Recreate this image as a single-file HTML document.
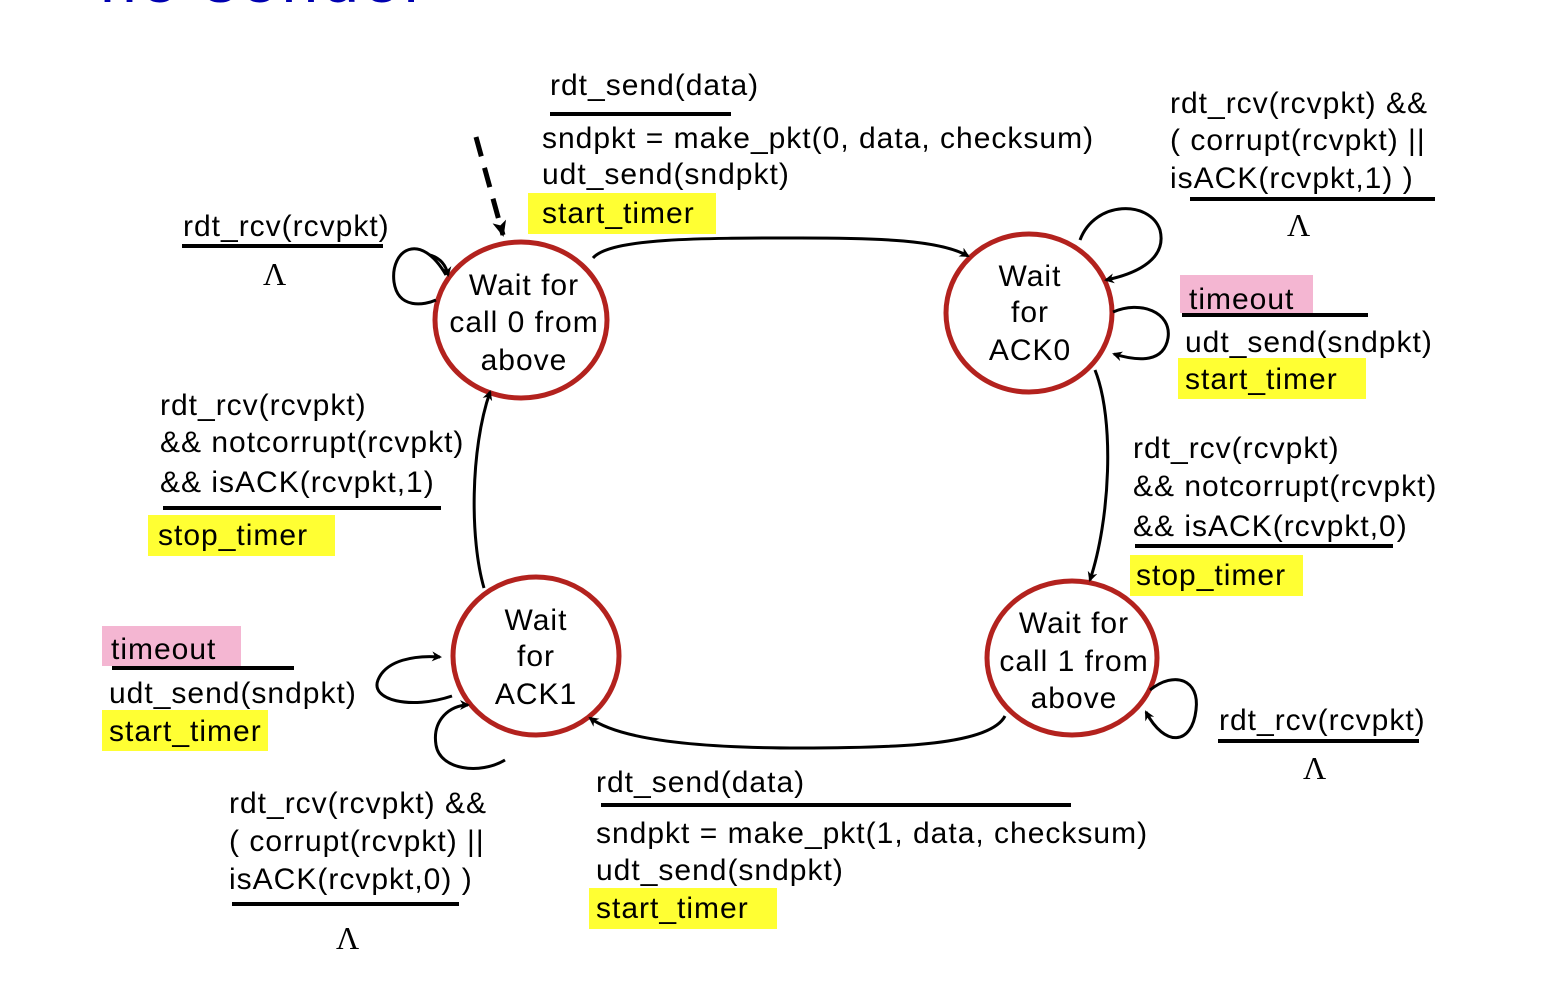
<!DOCTYPE html>
<html><head><meta charset="utf-8"><style>
html,body{margin:0;padding:0;background:#fff;}
svg{display:block;}
text{font-family:"Liberation Sans",sans-serif;font-size:30px;letter-spacing:1px;fill:#000;}
text.l{font-family:"Liberation Serif",serif;font-size:32px;letter-spacing:0;}
</style></head><body>
<svg width="1558" height="987" viewBox="0 0 1558 987" xmlns="http://www.w3.org/2000/svg">
<defs>
<marker id="a" markerWidth="10" markerHeight="10" refX="8" refY="5" orient="auto" markerUnits="userSpaceOnUse" viewBox="0 0 10 10">
<path d="M0,0 L10,5 L0,10 L3,5 z" fill="#000"/></marker>
<marker id="b" markerWidth="16" markerHeight="16" refX="14" refY="8" orient="auto" markerUnits="userSpaceOnUse" viewBox="0 0 16 16">
<path d="M0,1 L16,8 L0,15 L4,8 z" fill="#000"/></marker>
</defs>
<text x="100" y="2" style="font-size:66px;fill:#0000b0;letter-spacing:4px">ne sender</text>

<!-- highlights -->
<rect x="528" y="193" width="188" height="41" fill="#ffff33"/>
<rect x="1178" y="358" width="188" height="41" fill="#ffff33"/>
<rect x="148" y="515" width="187" height="41" fill="#ffff33"/>
<rect x="1130" y="555" width="173" height="41" fill="#ffff33"/>
<rect x="102" y="710" width="166" height="41" fill="#ffff33"/>
<rect x="589" y="888" width="188" height="41" fill="#ffff33"/>
<rect x="1180" y="275" width="133" height="38" fill="#f4b6d2"/>
<rect x="102" y="626" width="139" height="40" fill="#f4b6d2"/>

<!-- states -->
<g fill="none" stroke="#b3221e" stroke-width="5">
<ellipse cx="521" cy="320" rx="86" ry="78"/>
<ellipse cx="1029" cy="313" rx="83" ry="79"/>
<ellipse cx="536" cy="656" rx="83" ry="79"/>
<ellipse cx="1072" cy="658" rx="85" ry="77"/>
</g>
<g text-anchor="middle">
<text x="524" y="295">Wait for</text><text x="524" y="332">call 0 from</text><text x="524" y="370">above</text>
<text x="1030" y="286">Wait</text><text x="1030" y="322">for</text><text x="1030" y="360">ACK0</text>
<text x="536" y="630">Wait</text><text x="536" y="666">for</text><text x="536" y="704">ACK1</text>
<text x="1074" y="633">Wait for</text><text x="1074" y="671">call 1 from</text><text x="1074" y="708">above</text>
</g>

<!-- transitions -->
<g fill="none" stroke="#000" stroke-width="3">
<path d="M476,137 L503,235" stroke-dasharray="20,12" stroke-width="5" marker-end="url(#b)"/>
<path d="M593,258 C610,238 700,238 800,238 C880,238 940,240 968,256" marker-end="url(#a)"/>
<path d="M1095,370 C1115,420 1110,520 1090,580" marker-end="url(#a)"/>
<path d="M1005,716 C990,745 900,748 800,748 C700,748 620,740 590,718" marker-end="url(#a)"/>
<path d="M484,588 C470,540 470,450 490,392" marker-end="url(#a)"/>
<path d="M446,275 C420,230 390,250 394,282 C398,310 425,305 436,300" />
<path d="M430,255 C440,258 446,265 448,275" marker-end="url(#a)"/>
<path d="M1080,240 C1095,200 1150,200 1160,230 C1168,262 1130,275 1106,280" marker-end="url(#a)"/>
<path d="M1113,312 C1140,300 1172,312 1168,338 C1164,362 1140,362 1114,354" marker-end="url(#a)"/>
<path d="M1150,690 C1175,670 1200,680 1196,710 C1192,745 1165,748 1146,712" marker-end="url(#a)"/>
<path d="M452,696 C410,710 370,700 378,680 C386,660 415,655 440,657" marker-end="url(#a)"/>
<path d="M505,760 C480,775 440,770 436,745 C432,720 450,705 468,705" marker-end="url(#a)"/>
</g>

<!-- separator lines -->
<g stroke="#000" stroke-width="4">
<line x1="550" y1="114" x2="731" y2="114"/>
<line x1="1190" y1="199" x2="1435" y2="199"/>
<line x1="182" y1="246" x2="383" y2="246"/>
<line x1="1182" y1="315" x2="1368" y2="315"/>
<line x1="163" y1="508" x2="441" y2="508"/>
<line x1="1135" y1="546" x2="1393" y2="546"/>
<line x1="112" y1="668" x2="294" y2="668"/>
<line x1="1218" y1="741" x2="1419" y2="741"/>
<line x1="601" y1="805" x2="1071" y2="805"/>
<line x1="232" y1="904" x2="459" y2="904"/>
</g>

<!-- labels -->
<text x="550" y="95">rdt_send(data)</text>
<text x="542" y="148">sndpkt = make_pkt(0, data, checksum)</text>
<text x="542" y="184">udt_send(sndpkt)</text>
<text x="542" y="223">start_timer</text>

<text x="1170" y="113">rdt_rcv(rcvpkt) &amp;&amp;</text>
<text x="1170" y="150">( corrupt(rcvpkt) ||</text>
<text x="1170" y="188">isACK(rcvpkt,1) )</text>
<text class="l" x="1287" y="236">Λ</text>

<text x="183" y="236">rdt_rcv(rcvpkt)</text>
<text class="l" x="263" y="285">Λ</text>

<text x="1189" y="309">timeout</text>
<text x="1185" y="352">udt_send(sndpkt)</text>
<text x="1185" y="389">start_timer</text>

<text x="160" y="415">rdt_rcv(rcvpkt)</text>
<text x="160" y="452">&amp;&amp; notcorrupt(rcvpkt)</text>
<text x="160" y="492">&amp;&amp; isACK(rcvpkt,1)</text>
<text x="158" y="545">stop_timer</text>

<text x="1133" y="458">rdt_rcv(rcvpkt)</text>
<text x="1133" y="496">&amp;&amp; notcorrupt(rcvpkt)</text>
<text x="1133" y="536">&amp;&amp; isACK(rcvpkt,0)</text>
<text x="1136" y="585">stop_timer</text>

<text x="111" y="659">timeout</text>
<text x="109" y="703">udt_send(sndpkt)</text>
<text x="109" y="741">start_timer</text>

<text x="1219" y="730">rdt_rcv(rcvpkt)</text>
<text class="l" x="1303" y="779">Λ</text>

<text x="596" y="792">rdt_send(data)</text>
<text x="596" y="843">sndpkt = make_pkt(1, data, checksum)</text>
<text x="596" y="880">udt_send(sndpkt)</text>
<text x="596" y="918">start_timer</text>

<text x="229" y="813">rdt_rcv(rcvpkt) &amp;&amp;</text>
<text x="229" y="851">( corrupt(rcvpkt) ||</text>
<text x="229" y="889">isACK(rcvpkt,0) )</text>
<text class="l" x="336" y="949">Λ</text>
</svg>
</body></html>
